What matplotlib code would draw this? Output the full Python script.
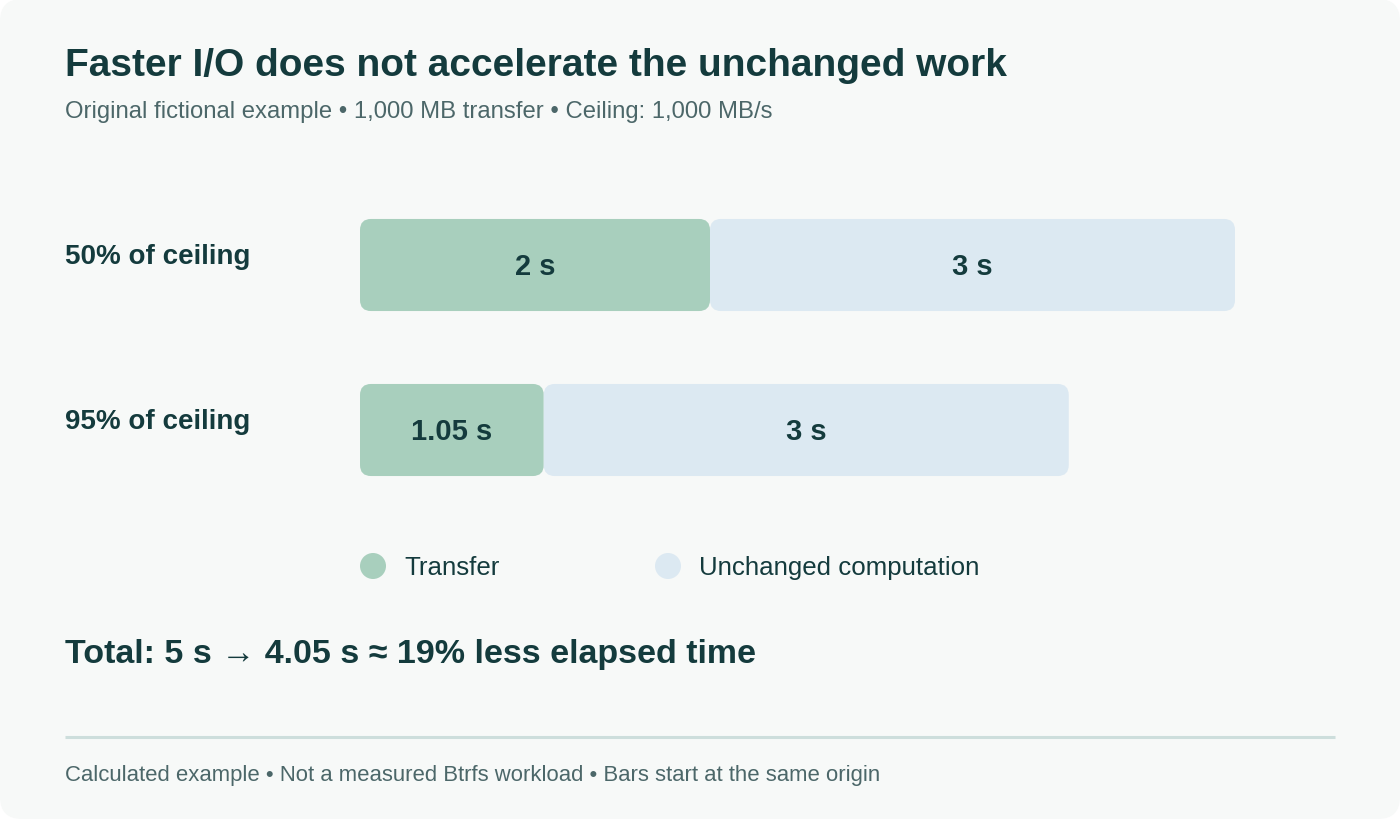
"""
plot.py - transfer vs unchanged computation bar chart
"""

import matplotlib
matplotlib.use("Agg")
import matplotlib.pyplot as plt
from matplotlib.patches import FancyBboxPatch, Circle

#============================================
# DATA
#============================================

rows = ["50% of ceiling", "95% of ceiling"]
transfer_s = [2.0, 1.05]
compute_s = [3.0, 3.0]
transfer_labels = ["2 s", "1.05 s"]
compute_labels = ["3 s", "3 s"]
legend_names = ["Transfer", "Unchanged computation"]

TITLE = "Faster I/O does not accelerate the unchanged work"
SUBTITLE = "Original fictional example • 1,000 MB transfer • Ceiling: 1,000 MB/s"
TOTAL = "Total: 5 s → 4.05 s ≈ 19% less elapsed time"
FOOTER = "Calculated example • Not a measured Btrfs workload • Bars start at the same origin"

#============================================
# STYLE
#============================================

W, H = 1400, 820
CARD = "#f7f9f8"
DARK = "#143b3d"
GREY = "#4c6769"
GREEN = "#a8cfbd"
BLUE = "#dce9f2"
RULE = "#cddedc"
FONT = ["Liberation Sans", "Noto Sans", "DejaVu Sans"]

plt.rcParams["font.family"] = FONT

fig = plt.figure(figsize=(W / 100, H / 100), dpi=100)
fig.patch.set_facecolor("white")

# background axes in pixel coordinates
bg = fig.add_axes([0, 0, 1, 1])
bg.set_xlim(0, W)
bg.set_ylim(H, 0)
bg.axis("off")
bg.add_patch(FancyBboxPatch((0, 0), W, H, boxstyle="round,pad=0,rounding_size=22",
                            facecolor=CARD, edgecolor="none"))

bg.text(65, 66, TITLE, fontsize=28, fontweight="bold", color=DARK, va="center", ha="left")
bg.text(65, 112, SUBTITLE, fontsize=17.2, color=GREY, va="center", ha="left")

# legend
for x, name, col in zip([373, 668], legend_names, [GREEN, BLUE]):
    bg.add_patch(Circle((x, 567), 13, facecolor=col, edgecolor="none"))
    bg.text(x + 31, 568, name, fontsize=18.6, color=DARK, va="center", ha="left")

bg.text(65, 655, TOTAL, fontsize=24.5, fontweight="bold", color=DARK, va="center", ha="left")
bg.plot([65, 1335], [738, 738], color=RULE, lw=2.2, solid_capstyle="butt")
bg.text(65, 776, FOOTER, fontsize=15.9, color=GREY, va="center", ha="left")

#============================================
# BARS
#============================================

PX_PER_S = 175.0
ROW_GAP = 165.0
BAR_H = 0.558
ax_left, ax_w = 360, 5 * PX_PER_S
ax_top, ax_h = 266 - 0.4 * ROW_GAP, 1.8 * ROW_GAP
ax = fig.add_axes([ax_left / W, 1 - (ax_top + ax_h) / H, ax_w / W, ax_h / H])
ax.set_xlim(0, 5)
ax.set_ylim(1.4, -0.4)
ax.axis("off")

radius_px = 11
xu = 1 / PX_PER_S
yu = 1 / ROW_GAP
aspect = yu / xu

for i, row in enumerate(rows):
    starts = [0, transfer_s[i]]
    widths = [transfer_s[i], compute_s[i]]
    labels = [transfer_labels[i], compute_labels[i]]
    for s, w, col, lab in zip(starts, widths, [GREEN, BLUE], labels):
        ax.add_patch(FancyBboxPatch((s, i - BAR_H / 2), w, BAR_H,
                                    boxstyle=f"round,pad=0,rounding_size={radius_px * xu}",
                                    mutation_aspect=aspect,
                                    facecolor=col, edgecolor="none"))
        ax.text(s + w / 2, i + 1 / ROW_GAP, lab, fontsize=21, fontweight="bold", color=DARK,
                ha="center", va="center")
    ax.text(-(360 - 65) / PX_PER_S, i - 9 / ROW_GAP, row, fontsize=20,
            fontweight="bold", color=DARK, ha="left", va="center")

fig.savefig("out.png", dpi=100, facecolor="white")
